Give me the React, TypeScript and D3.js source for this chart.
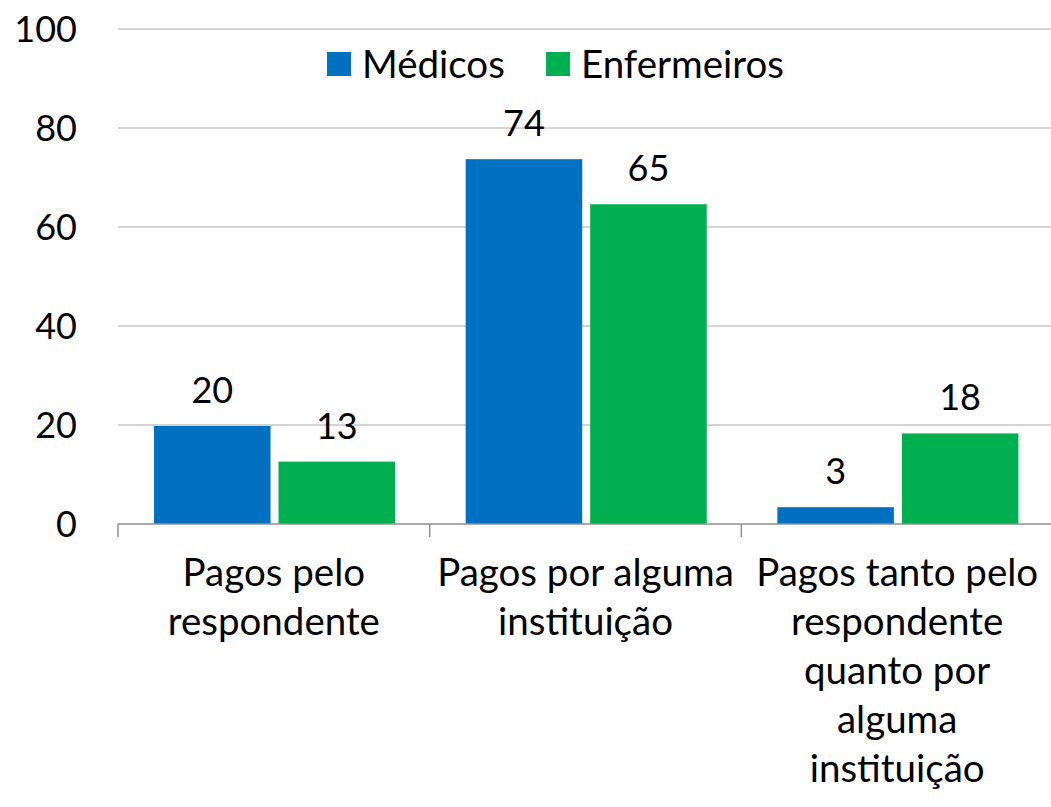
import React from "react";
import * as d3 from "d3";

const categories: string[][] = [
  ["Pagos pelo", "respondente"],
  ["Pagos por alguma", "instituição"],
  ["Pagos tanto pelo", "respondente", "quanto por", "alguma", "instituição"],
];
const seriesNames = ["Médicos", "Enfermeiros"];
const medicos = [19.8, 73.7, 3.4];
const enfermeiros = [12.6, 64.6, 18.3];
const yTicks = [0, 20, 40, 60, 80, 100];
const colors = ["#0070C0", "#00B050"];

const W = 1051;
const H = 807;
const FONT = "Lato, 'Open Sans', sans-serif";
const FS_NUM = 36;
const FS_TXT = 38.5;

export default function App() {
  const left = 118;
  const right = 1053;
  const y0 = 524;
  const y100 = 29;
  const catKeys = categories.map((_, i) => String(i));
  const x = d3.scaleBand<string>().domain(catKeys).range([left, right]).padding(0);
  const step = x.bandwidth();
  const xs = d3
    .scaleBand<string>()
    .domain(seriesNames)
    .range([step * 0.1155, step * 0.889])
    .paddingInner(0.064);
  const y = d3.scaleLinear().domain([0, 100]).range([y0, y100]);
  const data = [medicos, enfermeiros];

  return (
    <svg
      width={W}
      height={H}
      style={{ position: "absolute", left: 0, top: 0, background: "#fff" }}
      fontFamily={FONT}
    >
      {yTicks.filter((t) => t > 0).map((t) => (
        <line key={t} x1={left} x2={W} y1={y(t)} y2={y(t)} stroke="#c6c6c6" strokeWidth={1.5} />
      ))}
      {yTicks.map((t) => (
        <text key={"l" + t} x={77} y={y(t)} dy="0.36em" textAnchor="end" fontSize={FS_NUM} fill="#000">
          {t}
        </text>
      ))}
      {data.map((vals, si) =>
        vals.map((v, ci) => {
          const bx = (x(String(ci)) as number) + (xs(seriesNames[si]) as number);
          const bw = xs.bandwidth();
          return (
            <g key={si + "-" + ci}>
              <rect x={bx} y={y(v)} width={bw} height={y0 - y(v)} fill={colors[si]} />
              <text x={bx + bw / 2} y={y(v) - 23} textAnchor="middle" fontSize={FS_NUM} fill="#000">
                {Math.round(v)}
              </text>
            </g>
          );
        })
      )}
      <line x1={left} x2={W} y1={y0} y2={y0} stroke="#8f8f8f" strokeWidth={1.5} />
      {catKeys.map((k) => (
        <line
          key={"t" + k}
          x1={x(k) as number}
          x2={x(k) as number}
          y1={y0}
          y2={y0 + 13}
          stroke="#8f8f8f"
          strokeWidth={1.5}
        />
      ))}
      {categories.map((lines, ci) => (
        <text key={"c" + ci} textAnchor="middle" fontSize={FS_TXT} fill="#000">
          {lines.map((ln, li) => (
            <tspan key={li} x={(x(String(ci)) as number) + step / 2} y={586 + li * 49}>
              {ln}
            </tspan>
          ))}
        </text>
      ))}
      <g>
        <rect x={327} y={52} width={24} height={24} fill={colors[0]} />
        <text x={362} y={64} dy="0.36em" fontSize={FS_TXT} fill="#000">
          {seriesNames[0]}
        </text>
        <rect x={546} y={52} width={24} height={24} fill={colors[1]} />
        <text x={581} y={64} dy="0.36em" fontSize={FS_TXT} fill="#000">
          {seriesNames[1]}
        </text>
      </g>
    </svg>
  );
}
